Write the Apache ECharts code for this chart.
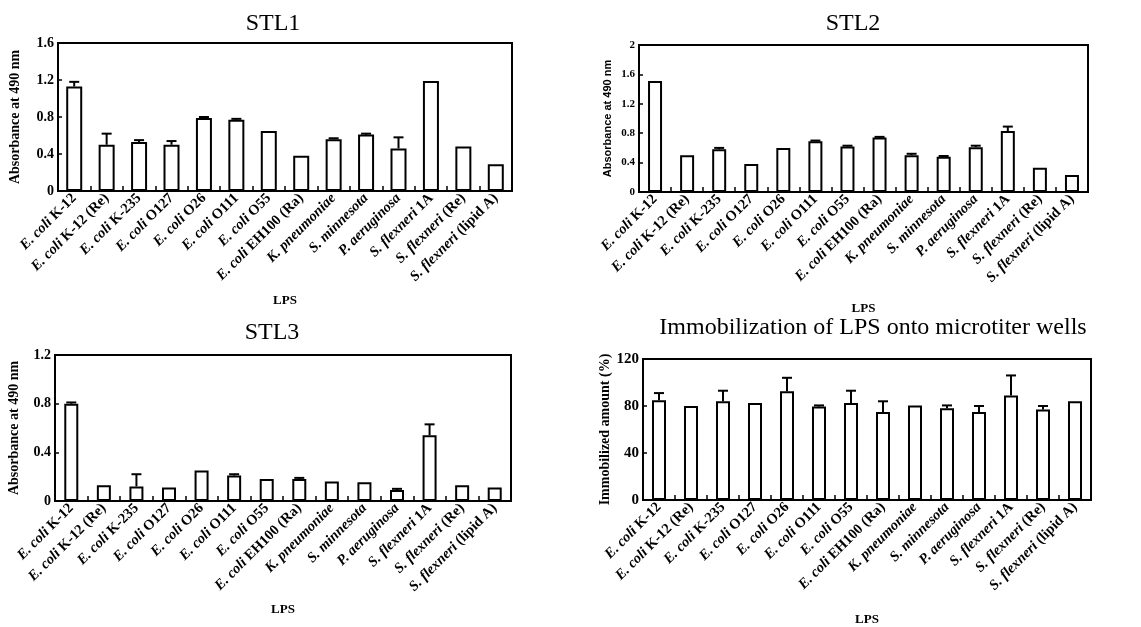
<!DOCTYPE html>
<html>
<head>
<meta charset="utf-8">
<script src="https://cdn.jsdelivr.net/npm/echarts@6/dist/echarts.min.js"></script>
<style>
  html, body {margin: 0; padding: 0; background: #fff;}
  #main {width: 1141px; height: 627px;}
</style>
</head>
<body>
<div id="main"></div>
<script>
  // LPS types, same order in every panel
  var categories = ['E. coli K-12', 'E. coli K-12 (Re)', 'E. coli K-235', 'E. coli O127', 'E. coli O26',
    'E. coli O111', 'E. coli O55', 'E. coli EH100 (Ra)', 'K. pneumoniae', 'S. minnesota',
    'P. aeruginosa', 'S. flexneri 1A', 'S. flexneri (Re)', 'S. flexneri (lipid A)'];

  var stl1 = [1.13, 0.50, 0.53, 0.50, 0.79, 0.77, 0.65, 0.38, 0.56, 0.61, 0.46, 1.19, 0.48, 0.29];
  var stl1Err = [0.05, 0.12, 0.02, 0.04, 0.01, 0.01, 0, 0, 0.01, 0.01, 0.12, 0, 0, 0];

  var stl2 = [1.51, 0.50, 0.58, 0.38, 0.60, 0.69, 0.62, 0.74, 0.50, 0.48, 0.61, 0.83, 0.33, 0.23];
  var stl2Err = [0, 0, 0.02, 0, 0, 0.01, 0.01, 0.01, 0.02, 0.01, 0.02, 0.06, 0, 0];

  var stl3 = [0.80, 0.13, 0.12, 0.11, 0.25, 0.21, 0.18, 0.18, 0.16, 0.155, 0.09, 0.54, 0.13, 0.11];
  var stl3Err = [0.01, 0, 0.10, 0, 0, 0.01, 0, 0.01, 0, 0, 0.01, 0.09, 0, 0];

  var immob = [85, 80, 84, 82.5, 92.5, 79.5, 82.5, 75, 80.5, 78, 75, 89, 77, 84];
  var immobErr = [6, 0, 9, 0, 11.5, 1, 10.5, 9, 0, 2.5, 5, 17, 3, 0];

  var serif = '"Liberation Serif", "DejaVu Serif", serif';
  var labelSize = 14.5;

  function errData(vals, errs) {
    var out = [];
    for (var i = 0; i < vals.length; i++) {
      if (errs[i] > 0) out.push([i, vals[i], vals[i] + errs[i]]);
    }
    return out;
  }

  // upper-only error bar with a cap
  function renderErr(params, api) {
    var low = api.coord([api.value(0), api.value(1)]);
    var high = api.coord([api.value(0), api.value(2)]);
    var style = {stroke: '#000', lineWidth: 2};
    return {
      type: 'group',
      children: [
        {type: 'line', shape: {x1: low[0], y1: low[1], x2: high[0], y2: high[1]}, style: style},
        {type: 'line', shape: {x1: high[0] - 5, y1: high[1], x2: high[0] + 5, y2: high[1]}, style: style}
      ]
    };
  }

  function xAxisOf(idx, gap) {
    return {
      type: 'category',
      gridIndex: idx,
      data: categories,
      name: 'LPS',
      nameLocation: 'middle',
      nameGap: gap,
      nameTextStyle: {fontFamily: serif, fontWeight: 'bold', fontSize: 13, color: '#000'},
      axisLine: {lineStyle: {color: '#000', width: 2}},
      axisTick: {show: true, inside: true, length: 5, lineStyle: {color: '#000', width: 1.5}},
      axisLabel: {
        interval: 0,
        rotate: 45,
        margin: 5,
        color: '#000',
        fontFamily: serif,
        fontWeight: 'bold',
        fontSize: labelSize,
        formatter: function (text) {
          var m = text.match(/^(\S+\.\s\S+)(.*)$/);
          return '{i|' + m[1] + '}' + (m[2] ? '{n|' + m[2] + '}' : '');
        },
        rich: {
          i: {fontFamily: serif, fontWeight: 'bold', fontStyle: 'italic', fontSize: labelSize, color: '#000'},
          n: {fontFamily: serif, fontWeight: 'bold', fontSize: labelSize, color: '#000'}
        }
      },
      splitLine: {show: false}
    };
  }

  function yAxisOf(idx, max, interval, name, gap, nameFont, nameSize, tickSize) {
    return {
      type: 'value',
      gridIndex: idx,
      min: 0,
      max: max,
      interval: interval,
      name: name,
      nameLocation: 'middle',
      nameRotate: 90,
      nameGap: gap,
      nameTextStyle: {fontFamily: nameFont, fontWeight: 'bold', fontSize: nameSize, color: '#000'},
      axisLine: {show: true, lineStyle: {color: '#000', width: 2}},
      axisTick: {show: true, inside: true, length: 4, lineStyle: {color: '#000', width: 1.5}},
      axisLabel: {
        color: '#000', fontFamily: serif, fontWeight: 'bold', fontSize: tickSize, margin: 4,
        formatter: function (v) { return String(Math.round(v * 10) / 10); }
      },
      splitLine: {show: false}
    };
  }

  function barSeries(idx, vals, width) {
    return {
      type: 'bar',
      xAxisIndex: idx,
      yAxisIndex: idx,
      barWidth: width,
      itemStyle: {color: '#fff', borderColor: '#000', borderWidth: 2},
      data: vals,
      silent: true
    };
  }

  function errSeries(idx, vals, errs) {
    return {
      type: 'custom',
      xAxisIndex: idx,
      yAxisIndex: idx,
      renderItem: renderErr,
      encode: {x: 0, y: [1, 2]},
      data: errData(vals, errs),
      z: 5,
      silent: true
    };
  }

  var titleStyle = {fontFamily: serif, fontWeight: 'normal', fontSize: 24, color: '#000'};

  var myChart = echarts.init(document.getElementById('main'));
  myChart.setOption({
    backgroundColor: '#fff',
    animation: false,
    title: [
      {text: 'STL1', left: 268, top: 7, textAlign: 'center', textStyle: titleStyle},
      {text: 'STL2', left: 848, top: 7, textAlign: 'center', textStyle: titleStyle},
      {text: 'STL3', left: 267, top: 316, textAlign: 'center', textStyle: titleStyle},
      {text: 'Immobilization of LPS onto microtiter wells', left: 868, top: 311, textAlign: 'center', textStyle: titleStyle}
    ],
    grid: [
      {left: 58, right: 629, top: 43, bottom: 436, show: true, borderColor: '#000', borderWidth: 2},
      {left: 639, right: 53, top: 45, bottom: 435, show: true, borderColor: '#000', borderWidth: 2},
      {left: 55, right: 630, top: 355, bottom: 126, show: true, borderColor: '#000', borderWidth: 2},
      {left: 643, right: 50, top: 359, bottom: 124, show: true, borderColor: '#000', borderWidth: 2}
    ],
    xAxis: [
      xAxisOf(0, 103),
      xAxisOf(1, 110),
      xAxisOf(2, 102),
      xAxisOf(3, 113)
    ],
    yAxis: [
      yAxisOf(0, 1.6, 0.4, 'Absorbance at 490 nm', 36, serif, 14, 14),
      yAxisOf(1, 2, 0.4, 'Absorbance at 490 nm', 26, '"Liberation Sans", Arial, sans-serif', 11, 11),
      yAxisOf(2, 1.2, 0.4, 'Absorbance at 490 nm', 34, serif, 14, 14),
      yAxisOf(3, 120, 40, 'Immobilized amount (%)', 18, serif, 14, 15)
    ],
    series: [
      barSeries(0, stl1, 16), errSeries(0, stl1, stl1Err),
      barSeries(1, stl2, 14), errSeries(1, stl2, stl2Err),
      barSeries(2, stl3, 14), errSeries(2, stl3, stl3Err),
      barSeries(3, immob, 14), errSeries(3, immob, immobErr)
    ]
  });
</script>
</body>
</html>
